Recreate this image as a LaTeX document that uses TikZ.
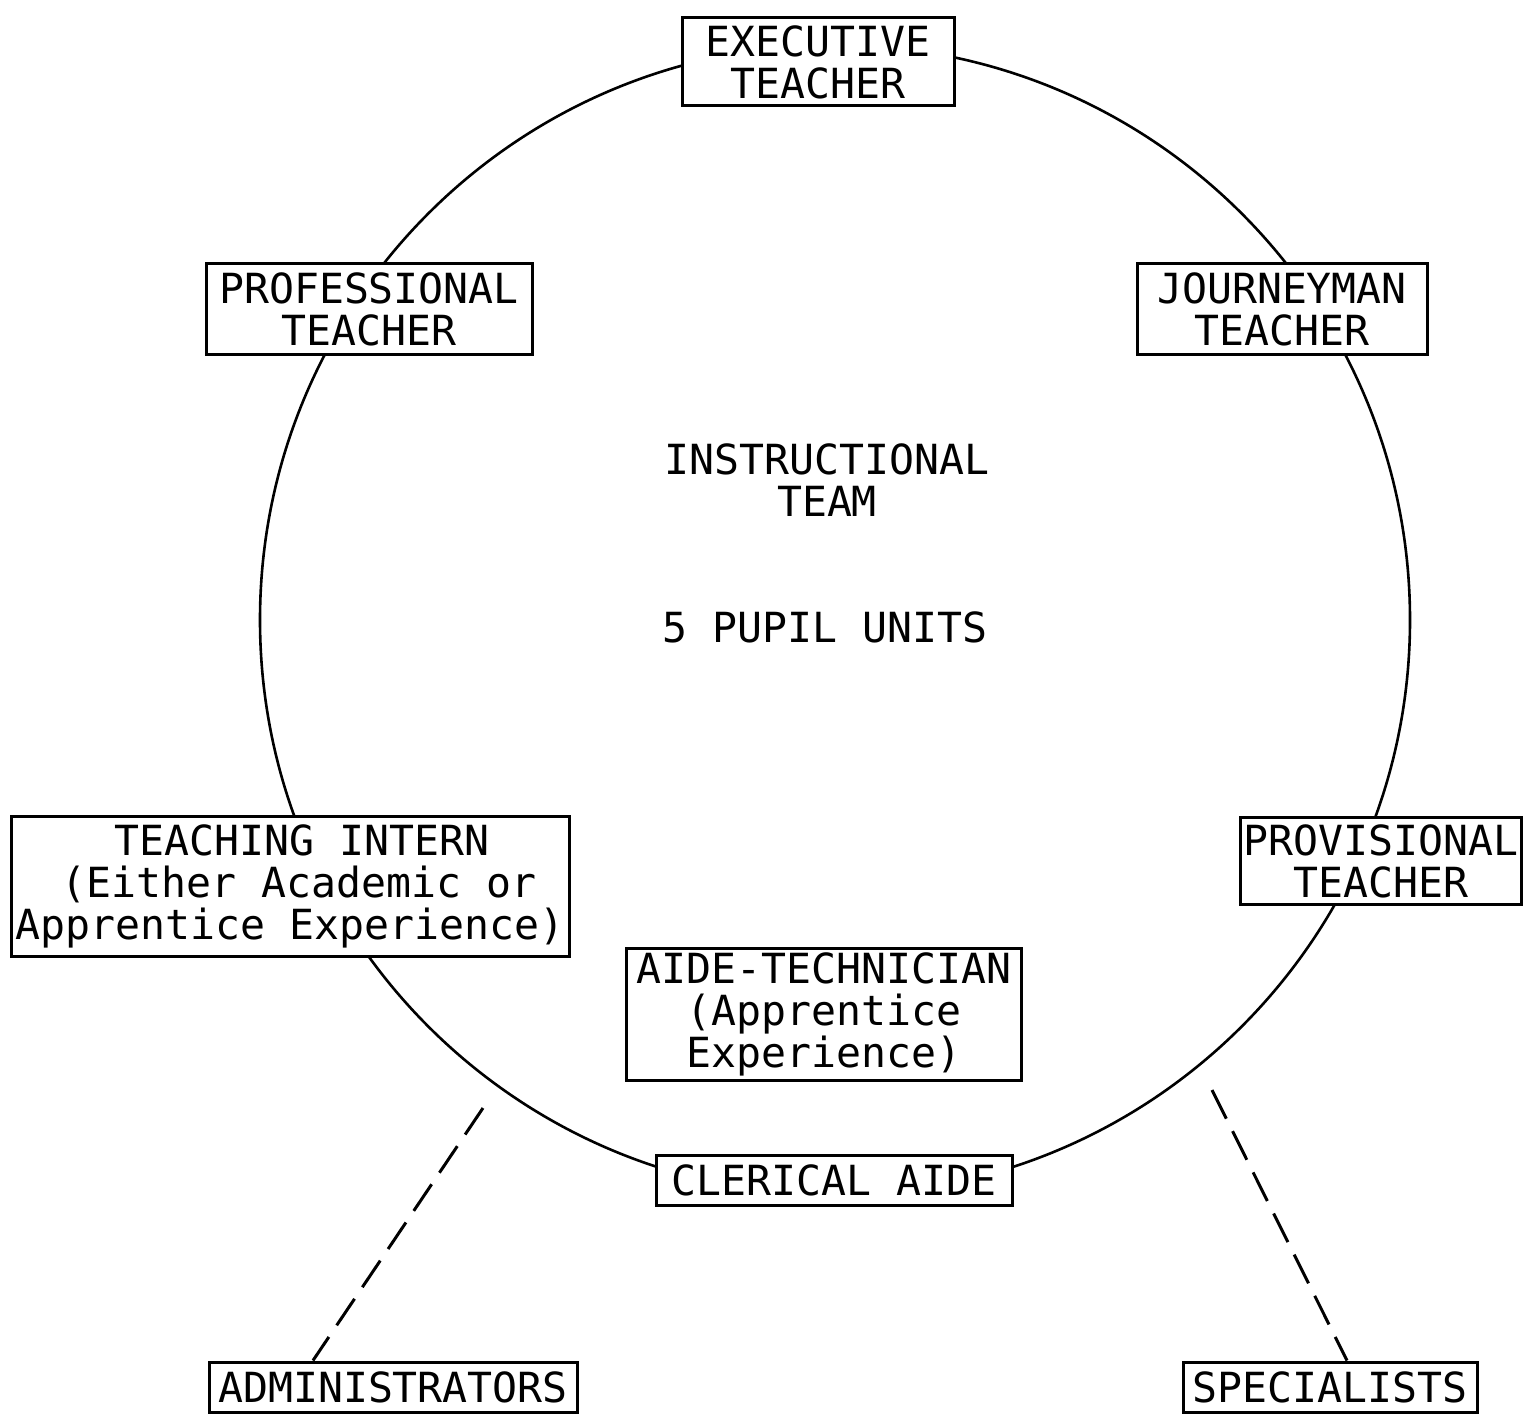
\documentclass[tikz,border=0pt]{standalone}
\usepackage{fontspec}
\newfontfamily\lett{DejaVu Sans Mono}
\begin{document}
\begin{tikzpicture}[x=1pt,y=-1pt,
  lettfont/.style={font=\lett\fontsize{41.5}{42}\selectfont},
  box/.style={draw, line width=3pt, fill=white, rectangle, inner sep=0pt, align=center, lettfont},
  lbl/.style={align=center, inner sep=0pt, lettfont},
  dashline/.style={line width=3pt, dash pattern=on 32pt off 14pt}]
\useasboundingbox (0,0) rectangle (1526,1415);
\fill[white] (0,0) rectangle (1526,1415);
\node[circle, draw, line width=2.6pt, minimum size=1150pt, inner sep=0pt] (team) at (835,620) {};
\node[lbl] (title) at (827,480) {INSTRUCTIONAL\\TEAM};
\node[lbl] (units) at (825,627) {5 PUPIL UNITS};
\node[box, minimum width=272pt, minimum height=88pt] (exec) at (818,62) {EXECUTIVE\\TEACHER};
\node[box, minimum width=326pt, minimum height=90pt] (prof) at (369,309) {PROFESSIONAL\\TEACHER};
\node[box, minimum width=290pt, minimum height=90pt] (journ) at (1282,309) {JOURNEYMAN\\TEACHER};
\node[box, minimum width=558pt, minimum height=140pt] (intern) at (290,886) {\hspace*{24pt}TEACHING INTERN\\\hspace*{18pt}(Either Academic or\\Apprentice Experience)};
\node[box, minimum width=281pt, minimum height=87pt] (prov) at (1381,861) {PROVISIONAL\\TEACHER};
\node[box, minimum width=395pt, minimum height=132pt] (aide) at (824,1014) {AIDE-TECHNICIAN\\(Apprentice\\Experience)};
\node[box, minimum width=356pt, minimum height=50pt] (cler) at (834,1180) {CLERICAL AIDE};
\node[box, minimum width=368pt, minimum height=50pt] (adm) at (393,1387) {ADMINISTRATORS};
\node[box, minimum width=294pt, minimum height=50pt] (spec) at (1330,1387) {SPECIALISTS};
\coordinate (admtop) at (483,1108);
\coordinate (spectop) at (1212,1090);
\draw[dashline] (admtop) -- ([xshift=-80pt]adm.north);
\draw[dashline] (spectop) -- ([xshift=17pt]spec.north);
\end{tikzpicture}
\end{document}
